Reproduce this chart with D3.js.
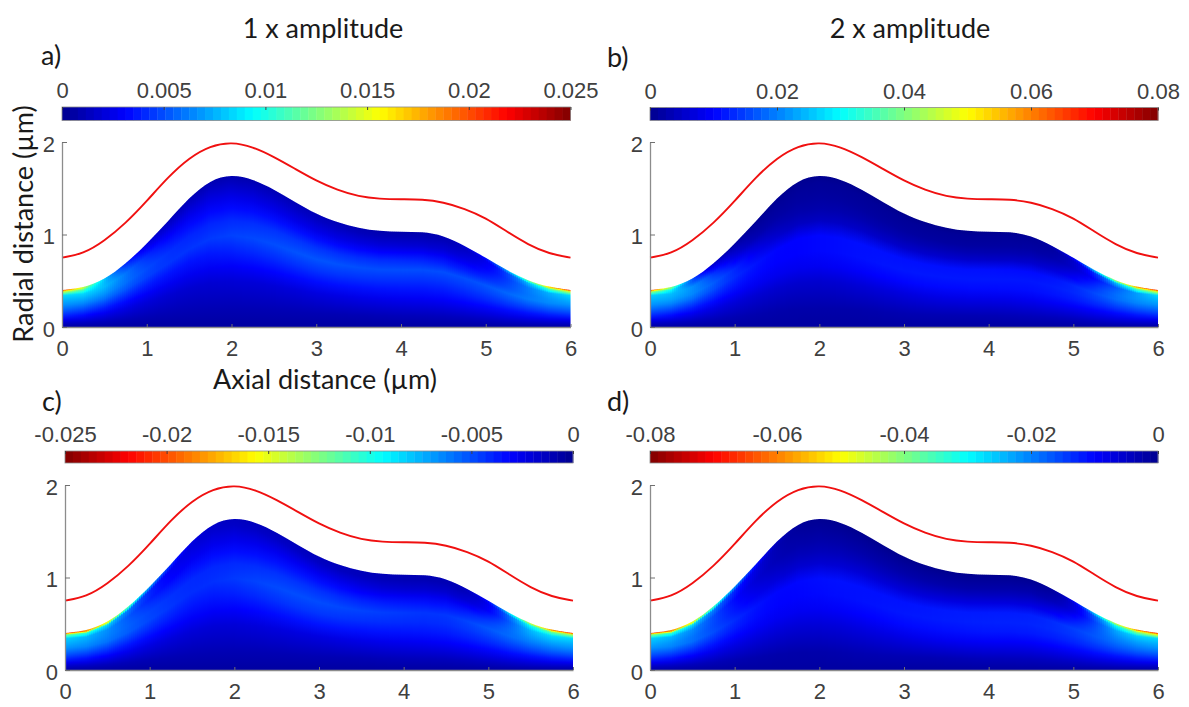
<!DOCTYPE html>
<html lang="en">
<head>
<meta charset="UTF-8">
<title>Axial and radial distance field maps</title>
<script src="https://d3js.org/d3.v7.min.js"></script>
<style>
    html, body { margin: 0; background: #fff; overflow: hidden; }
    svg { display: block; }
    .tick text { font-family: "Liberation Sans", sans-serif; font-size: 22px; fill: #404040; }
    .label { font-family: Lato, sans-serif; fill: #1a1a1a; }
</style>
</head>
<body>
<script>
// values
const stations = [0, 0.25, 0.5, 0.75, 1, 1.25, 1.5, 1.75, 2, 2.25, 2.5, 2.75, 3, 3.25, 3.5, 3.75, 4, 4.25, 4.5, 4.75, 5, 5.25, 5.5, 5.75, 6];
const wall = [0.75, 0.79, 0.93, 1.12, 1.36, 1.62, 1.83, 1.96, 2, 1.95, 1.84, 1.71, 1.58, 1.48, 1.41, 1.385, 1.38, 1.38, 1.35, 1.28, 1.18, 1.03, 0.89, 0.79, 0.75];
const edge = [0.4, 0.42, 0.51, 0.68, 0.9, 1.14, 1.4, 1.59, 1.65, 1.6, 1.49, 1.35, 1.22, 1.13, 1.07, 1.035, 1.03, 1.03, 0.99, 0.88, 0.75, 0.61, 0.5, 0.43, 0.4];

const xTicks = [0, 1, 2, 3, 4, 5, 6];
const yTicks = [0, 1, 2];
const barTicksA = ['0', '0.005', '0.01', '0.015', '0.02', '0.025'];
const barTicksB = ['0', '0.02', '0.04', '0.06', '0.08'];
const barTicksC = ['-0.025', '-0.02', '-0.015', '-0.01', '-0.005', '0'];
const barTicksD = ['-0.08', '-0.06', '-0.04', '-0.02', '0'];

// field levels (share of the colour range), one row per height between axis and edge,
// columns are x = 0, 0.5 ... 6
const fractions = [0, 0.12, 0.3, 0.45, 0.6, 0.72, 0.85, 0.95, 1];
const fieldA = [
    [.02, .02, .02, .02, .02, .02, .02, .02, .02, .02, .02, .02, .02],
    [.07, .05, .04, .04, .04, .04, .04, .04, .05, .05, .06, .07, .07],
    [.16, .11, .08, .07, .08, .08, .09, .10, .11, .12, .13, .14, .16],
    [.22, .17, .13, .12, .14, .15, .16, .16, .16, .16, .18, .20, .22],
    [.27, .24, .18, .17, .19, .20, .21, .20, .20, .20, .20, .25, .27],
    [.30, .29, .19, .15, .16, .17, .17, .16, .16, .14, .14, .25, .30],
    [.34, .34, .14, .10, .10, .10, .10, .09, .08, .07, .10, .26, .34],
    [.58, .30, .08, .06, .05, .06, .06, .05, .04, .04, .07, .30, .58],
    [.85, .25, .06, .04, .03, .04, .05, .04, .03, .03, .10, .45, .85]
];
const fieldB = [
    [.02, .02, .02, .02, .02, .02, .02, .02, .02, .02, .02, .02, .02],
    [.07, .05, .04, .03, .03, .03, .04, .04, .04, .05, .05, .07, .07],
    [.16, .11, .08, .07, .07, .08, .09, .10, .10, .11, .12, .13, .16],
    [.22, .17, .13, .12, .13, .14, .15, .15, .15, .15, .16, .19, .22],
    [.27, .24, .16, .12, .13, .14, .14, .14, .14, .13, .15, .24, .27],
    [.30, .28, .16, .04, .04, .05, .05, .06, .05, .05, .09, .25, .30],
    [.33, .30, .05, .02, .02, .02, .02, .02, .02, .02, .04, .22, .34],
    [.55, .18, .02, .01, .01, .01, .01, .01, .01, .01, .02, .30, .60],
    [.85, .10, .01, 0, 0, 0, 0, 0, 0, 0, .05, .55, .85]
];
const fieldC = [
    [.02, .02, .02, .02, .02, .02, .02, .02, .02, .02, .02, .02, .02],
    [.07, .05, .04, .04, .04, .04, .04, .04, .05, .05, .06, .07, .07],
    [.16, .12, .09, .08, .08, .09, .09, .10, .11, .12, .13, .14, .16],
    [.22, .18, .15, .13, .14, .16, .17, .16, .16, .16, .18, .20, .22],
    [.27, .24, .19, .16, .18, .20, .20, .19, .18, .17, .21, .25, .27],
    [.30, .26, .18, .16, .16, .17, .17, .15, .14, .13, .16, .30, .30],
    [.33, .28, .14, .11, .10, .11, .11, .09, .07, .07, .08, .35, .34],
    [.50, .34, .14, .08, .06, .06, .06, .05, .04, .04, .05, .42, .55],
    [.85, .62, .25, .07, .05, .05, .05, .05, .04, .04, .06, .60, .85]
];
const fieldD = [
    [.02, .02, .02, .02, .02, .02, .02, .02, .02, .02, .02, .02, .02],
    [.07, .05, .04, .03, .03, .04, .04, .04, .05, .05, .06, .07, .07],
    [.16, .12, .09, .08, .08, .09, .10, .11, .12, .12, .13, .14, .16],
    [.22, .18, .14, .12, .13, .14, .15, .15, .16, .16, .17, .20, .22],
    [.27, .24, .16, .12, .14, .14, .14, .15, .15, .15, .18, .24, .27],
    [.30, .25, .14, .06, .06, .07, .07, .08, .08, .07, .13, .28, .30],
    [.33, .28, .12, .03, .03, .03, .03, .03, .03, .03, .05, .33, .34],
    [.52, .34, .15, .02, .01, .01, .01, .01, .01, .01, .02, .40, .62],
    [.85, .62, .25, .02, 0, 0, 0, 0, 0, 0, .02, .60, .85]
];

const width = 1189;
const height = 707;

// jet colormap
const jet = d3.scaleLinear()
    .domain([0, 0.125, 0.375, 0.625, 0.875, 1])
    .range(['#00008f', '#0000ff', '#00ffff', '#ffff00', '#ff0000', '#800000'])
    .clamp(true);

const panels = [
    { id: 'a', field: fieldA, ticks: barTicksA, reversed: false, left: 62, right: 570.5, top: 142, bottom: 327, barTop: 107, barBottom: 120.5, tagX: 41, tagY: 65 },
    { id: 'b', field: fieldB, ticks: barTicksB, reversed: false, left: 650, right: 1158, top: 142, bottom: 327, barTop: 107.5, barBottom: 120.5, tagX: 607, tagY: 67 },
    { id: 'c', field: fieldC, ticks: barTicksC, reversed: true, left: 65, right: 573, top: 485, bottom: 670, barTop: 451, barBottom: 463, tagX: 42, tagY: 411 },
    { id: 'd', field: fieldD, ticks: barTicksD, reversed: true, left: 650, right: 1158, top: 485, bottom: 670, barTop: 451, barBottom: 463, tagX: 607, tagY: 411 }
];

const svg = d3.select('body').append('svg')
    .attr('width', width)
    .attr('height', height);
const defs = svg.append('defs');

// heights inside a column where a colour stop is placed
const stopAt = [0, .06, .12, .2, .3, .4, .5, .6, .7, .78, .85, .9, .95, .975, 1];

panels.forEach(p => {
    const x = d3.scaleLinear().domain([0, 6]).range([p.left, p.right]);
    const y = d3.scaleLinear().domain([0, 2]).range([p.bottom, p.top]);
    const edgeAt = d3.scaleLinear().domain(stations).range(edge);
    const rows = p.field.map(row => d3.interpolateBasis(row));

    const g = svg.append('g');

    // clip to the edge of the region
    const area = d3.area()
        .x((d, i) => x(stations[i]))
        .y0(y(0))
        .y1(d => y(d))
        .curve(d3.curveBasis);
    defs.append('clipPath').attr('id', `clip-${p.id}`)
        .append('path').attr('d', area(edge));

    const columns = d3.range(p.left, p.right, 2);
    const grads = defs.selectAll(`.grad-${p.id}`)
        .data(columns)
        .enter()
        .append('linearGradient')
        .attr('class', `grad-${p.id}`)
        .attr('id', (d, i) => `grad-${p.id}-${i}`)
        .attr('gradientUnits', 'userSpaceOnUse')
        .attr('x1', 0).attr('x2', 0)
        .attr('y1', y(0))
        .attr('y2', d => y(edgeAt(x.invert(d + 1))));
    grads.selectAll('stop')
        .data(d => {
            const u = Math.min(1, Math.max(0, x.invert(d + 1) / 6));
            const level = d3.scaleLinear().domain(fractions).range(rows.map(r => r(u)));
            return stopAt.map(f => ({ f, t: level(f) }));
        })
        .enter()
        .append('stop')
        .attr('offset', d => d.f)
        .attr('stop-color', d => jet(d.t));

    g.append('g')
        .attr('clip-path', `url(#clip-${p.id})`)
        .selectAll('rect')
        .data(columns)
        .enter()
        .append('rect')
        .attr('x', d => d)
        .attr('y', p.top)
        .attr('width', 2.2)
        .attr('height', p.bottom - p.top)
        .attr('fill', (d, i) => `url(#grad-${p.id}-${i})`);

    // red outer line
    const line = d3.line()
        .x((d, i) => x(stations[i]))
        .y(d => y(d))
        .curve(d3.curveBasis);
    g.append('path')
        .attr('d', line(wall))
        .attr('fill', 'none')
        .attr('stroke', '#f01010')
        .attr('stroke-width', 1.9);

    // axes
    const xAxis = g.append('g')
        .attr('transform', `translate(0,${p.bottom})`)
        .call(d3.axisBottom(x).tickValues(xTicks).tickFormat(d3.format('d')).tickSizeInner(-3).tickSizeOuter(0).tickPadding(13.5));
    const yAxis = g.append('g')
        .attr('transform', `translate(${p.left},0)`)
        .call(d3.axisLeft(y).tickValues(yTicks).tickFormat(d3.format('d')).tickSizeInner(-5).tickSizeOuter(0).tickPadding(7));
    [xAxis, yAxis].forEach(a => {
        a.select('.domain').attr('stroke', '#8c8c8c').attr('stroke-width', 1.3);
        a.selectAll('.tick line').attr('stroke', '#707070');
    });
    yAxis.selectAll('.tick text').attr('dy', '0.42em');

    // colour bar
    const levels = d3.range(64);
    const band = d3.scaleBand().domain(levels).range([p.left, p.right]);
    g.append('g').selectAll('rect')
        .data(levels)
        .enter()
        .append('rect')
        .attr('x', d => band(d))
        .attr('y', p.barTop)
        .attr('width', band.bandwidth() + 0.4)
        .attr('height', p.barBottom - p.barTop)
        .attr('fill', d => jet((p.reversed ? 63 - d + 0.5 : d + 0.5) / 64));
    g.append('rect')
        .attr('x', p.left).attr('y', p.barTop)
        .attr('width', p.right - p.left).attr('height', p.barBottom - p.barTop)
        .attr('fill', 'none')
        .attr('stroke', '#8c8c8c')
        .attr('stroke-width', 0.8);

    const barScale = d3.scalePoint().domain(p.ticks).range([p.left, p.right]);
    const barAxis = g.append('g')
        .attr('transform', `translate(0,${p.barTop})`)
        .call(d3.axisTop(barScale).tickSizeInner(-3).tickSizeOuter(0).tickPadding(9));
    barAxis.select('.domain').remove();
    barAxis.selectAll('.tick line').attr('stroke', '#404040');

    g.append('text')
        .attr('class', 'label')
        .attr('x', p.tagX)
        .attr('y', p.tagY)
        .style('font-size', '27px')
        .text(`${p.id})`);
});

// titles and axis names
svg.append('text').attr('class', 'label')
    .attr('x', 323).attr('y', 38)
    .attr('text-anchor', 'middle')
    .style('font-size', '27px')
    .text('1 x amplitude');
svg.append('text').attr('class', 'label')
    .attr('x', 910).attr('y', 38)
    .attr('text-anchor', 'middle')
    .style('font-size', '27px')
    .text('2 x amplitude');
svg.append('text').attr('class', 'label')
    .attr('x', 325).attr('y', 389)
    .attr('text-anchor', 'middle')
    .style('font-size', '27px')
    .text('Axial distance (µm)');
svg.append('text').attr('class', 'label')
    .attr('transform', 'translate(33,224) rotate(-90)')
    .attr('text-anchor', 'middle')
    .style('font-size', '27px')
    .text('Radial distance (µm)');
</script>
</body>
</html>
